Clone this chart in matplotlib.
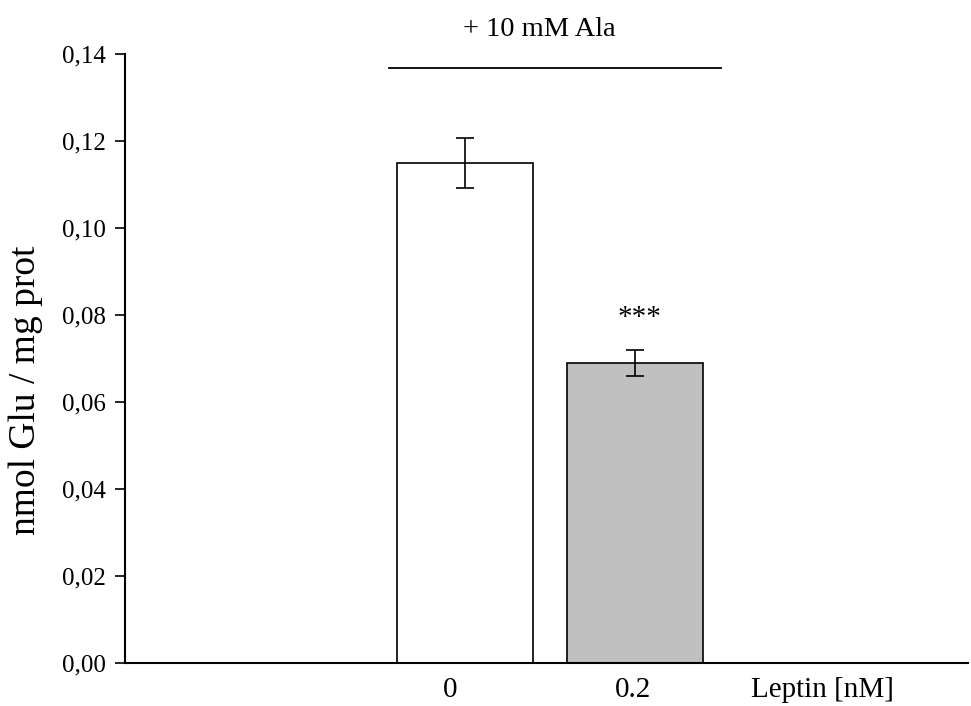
import matplotlib
matplotlib.use("Agg")
import matplotlib.pyplot as plt
from matplotlib.lines import Line2D

# Glutamate release with alanine, with and without leptin
groups = ["0", "0.2"]
means = [0.1149, 0.0688]
errors = [0.0057, 0.0030]
bar_colors = ["white", "#c0c0c0"]
yticks = [0.00, 0.02, 0.04, 0.06, 0.08, 0.10, 0.12, 0.14]
ytick_labels = ["0,00", "0,02", "0,04", "0,06", "0,08", "0,10", "0,12", "0,14"]

plt.rcParams["font.family"] = ["Liberation Serif", "DejaVu Serif"]

fig = plt.figure(figsize=(9.71, 7.06), dpi=100)
ax = fig.add_axes([0.1287, 0.0613, 0.868, 0.8629])

pos = list(range(len(groups)))
ax.bar(pos, means, width=0.8, color=bar_colors, edgecolor="black", linewidth=1.2,
       zorder=2)
ax.errorbar(pos, means, yerr=errors, fmt="none", ecolor="black", elinewidth=1.2,
            capsize=6.5, capthick=1.2, zorder=3)

ax.set_xlim(-2.0, 2.955)
ax.set_ylim(0, 0.14)
ax.set_yticks(yticks)
ax.set_yticklabels(ytick_labels, fontsize=18)
ax.set_xticks([])
ax.tick_params(axis="y", direction="out", length=7, width=1.2, pad=7)

for side in ("top", "right"):
    ax.spines[side].set_visible(False)
for side in ("left", "bottom"):
    ax.spines[side].set_linewidth(1.5)

# y-axis title
fig.text(26 / 971, 1 - 390 / 706, "nmol Glu / mg prot", rotation=90,
         ha="center", va="center", fontsize=27)

# category labels under the axis
label_offsets = [-0.088, -0.016]
for p, g, off in zip(pos, groups, label_offsets):
    ax.text(p + off, -0.0078, g, ha="center", va="baseline", fontsize=21)
ax.text(2.102, -0.0078, "Leptin [nM]", ha="center", va="baseline", fontsize=21)

# significance mark
ax.text(pos[1] + 0.025, means[1] + errors[1] + 0.0045, "***", ha="center",
        va="bottom", fontsize=21)

# treatment heading with underline
fig.text(0.555, 0.958, "+ 10 mM Ala", ha="center", va="center", fontsize=20.5)
fig.add_artist(Line2D([0.4006, 0.7425], [0.9037, 0.9037], color="black",
                      linewidth=1.3, transform=fig.transFigure))

fig.savefig("out.png", dpi=100)
